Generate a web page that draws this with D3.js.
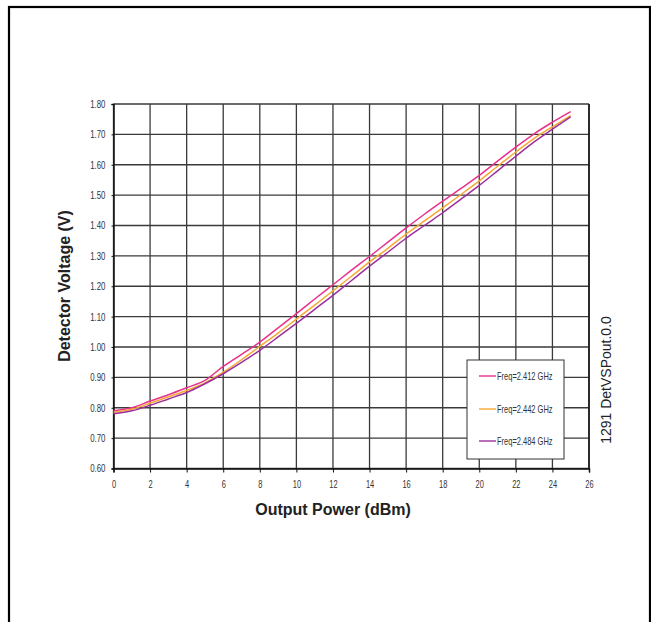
<!DOCTYPE html>
<html><head><meta charset="utf-8">
<script src="https://cdn.jsdelivr.net/npm/d3@7"></script>
<style>
html,body{margin:0;padding:0;background:#fff;}
svg{display:block;}
.tick text{font-family:"Liberation Sans",Arial,sans-serif;fill:#333;}
</style></head>
<body>
<svg id="chart" width="651" height="622"></svg>
<script>
const power = [0,1,2,3,4,5,6,7,8,9,10,11,12,13,14,15,16,17,18,19,20,21,22,23,24,25];
const freq2412 = [0.790,0.800,0.822,0.843,0.866,0.890,0.936,0.976,1.016,1.063,1.110,1.158,1.205,1.252,1.298,1.345,1.392,1.437,1.480,1.522,1.565,1.612,1.658,1.702,1.740,1.775];
const freq2442 = [0.785,0.795,0.815,0.836,0.857,0.882,0.917,0.958,1.002,1.046,1.092,1.138,1.185,1.232,1.280,1.325,1.372,1.415,1.458,1.502,1.547,1.595,1.642,1.687,1.725,1.762];
const freq2484 = [0.780,0.790,0.808,0.829,0.850,0.879,0.912,0.949,0.989,1.033,1.078,1.124,1.170,1.218,1.266,1.312,1.358,1.400,1.442,1.487,1.532,1.580,1.628,1.675,1.717,1.758];
const seriesNames = ["Freq=2.412 GHz","Freq=2.442 GHz","Freq=2.484 GHz"];
const seriesColors = ["#e8318c","#f5a833","#9c2e9e"];
const xTicks = [0,2,4,6,8,10,12,14,16,18,20,22,24,26];
const yTicks = [0.6,0.7,0.8,0.9,1.0,1.1,1.2,1.3,1.4,1.5,1.6,1.7,1.8];

const series = [freq2412, freq2442, freq2484];

const svg = d3.select("#chart");
// outer frame
svg.append("rect").attr("x",9).attr("y",7).attr("width",641).attr("height",640)
  .attr("fill","none").attr("stroke","#000").attr("stroke-width",2.2);

const L=113.5, R=589, T=104, B=468.5;
const x = d3.scaleLinear().domain([0,26]).range([L,R]);
const y = d3.scaleLinear().domain([0.6,1.8]).range([B,T]);

const g = svg.append("g");
// grid
g.append("g").selectAll("line").data(yTicks).join("line")
  .attr("x1",L).attr("x2",R).attr("y1",d=>y(d)).attr("y2",d=>y(d))
  .attr("stroke","#3a3a3a").attr("stroke-width",1.3);
g.append("g").selectAll("line").data(xTicks).join("line")
  .attr("y1",T).attr("y2",B).attr("x1",d=>x(d)).attr("x2",d=>x(d))
  .attr("stroke","#3a3a3a").attr("stroke-width",1.3);

// axes
const xAxis = d3.axisBottom(x).tickValues(xTicks).tickFormat(d3.format("d")).tickSize(4).tickPadding(8);
const gx = svg.append("g").attr("transform",`translate(0,${B})`).call(xAxis);
gx.select(".domain").attr("stroke","#111").attr("stroke-width",1.5);
gx.selectAll(".tick line").attr("stroke","#111");
gx.selectAll(".tick text").attr("font-size","10px").attr("transform","scale(0.75,1)");

const yAxis = d3.axisLeft(y).tickValues(yTicks).tickFormat(d3.format(".2f")).tickSize(2).tickPadding(6);
const gy = svg.append("g").attr("transform",`translate(${L},0)`).call(yAxis);
gy.select(".domain").attr("stroke","#111").attr("stroke-width",1.5);
gy.selectAll(".tick line").attr("stroke","#111");
gy.selectAll(".tick text").attr("font-size","10.5px").attr("x",0)
  .attr("transform","translate(-8,0) scale(0.75,1)");

// right border
svg.append("line").attr("x1",R).attr("x2",R).attr("y1",T).attr("y2",B).attr("stroke","#111").attr("stroke-width",1.5);

// lines
const line = d3.line().curve(d3.curveMonotoneX).x((d,i)=>x(power[i])).y(d=>y(d));
series.forEach((s,k)=>{
  svg.append("path").datum(s).attr("d",line).attr("fill","none")
    .attr("stroke",seriesColors[k]).attr("stroke-width",1.5);
});

// legend
const lg = svg.append("g");
lg.append("rect").attr("x",467).attr("y",360).attr("width",97).attr("height",99)
  .attr("fill","#fff").attr("stroke","#333").attr("stroke-width",1);
const legY = [376,409,441];
seriesNames.forEach((n,k)=>{
  lg.append("line").attr("x1",479).attr("x2",496).attr("y1",legY[k]).attr("y2",legY[k])
    .attr("stroke",seriesColors[k]).attr("stroke-width",1.4);
  lg.append("text").attr("transform",`translate(497,${legY[k]}) scale(0.75,1)`).attr("dy","0.35em")
    .attr("font-family","'Liberation Sans',Arial,sans-serif")
    .attr("font-size","10px").attr("fill","#333").text(n);
});

// titles
svg.append("text").attr("transform","translate(70,286) rotate(-90)")
  .attr("text-anchor","middle").attr("font-family","'Liberation Sans',Arial,sans-serif")
  .attr("font-weight","bold").attr("font-size","16px").attr("fill","#222").text("Detector Voltage (V)");
svg.append("text").attr("x",333).attr("y",515)
  .attr("text-anchor","middle").attr("font-family","'Liberation Sans',Arial,sans-serif")
  .attr("font-weight","bold").attr("font-size","16px").attr("fill","#222").text("Output Power (dBm)");
svg.append("text").attr("transform","translate(611,380) rotate(-90)")
  .attr("text-anchor","middle").attr("font-family","'Liberation Sans',Arial,sans-serif")
  .attr("font-size","14px").attr("fill","#222").text("1291 DetVSPout.0.0");
</script>
</body></html>
